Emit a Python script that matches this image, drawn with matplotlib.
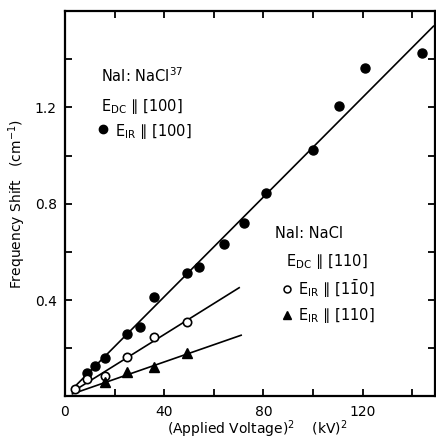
import matplotlib
matplotlib.use("Agg")
import matplotlib.pyplot as plt
import numpy as np

# NaI:NaCl, E_DC || [100], E_IR || [100]  (filled circles)
v2_100 = [9, 12.25, 16, 25, 30.25, 36, 49, 54, 64, 72.25, 81, 100, 110.25, 121, 144]
shift_100 = [0.097, 0.126, 0.161, 0.261, 0.289, 0.414, 0.514, 0.539, 0.633, 0.722,
             0.845, 1.022, 1.205, 1.365, 1.425]

# NaI:NaCl, E_DC || [110], E_IR || [1-10]  (open circles)
v2_1m10 = [4, 9, 16, 25, 36, 49]
shift_1m10 = [0.032, 0.071, 0.085, 0.162, 0.247, 0.310]

# NaI:NaCl, E_DC || [110], E_IR || [110]  (triangles)
v2_110 = [16, 25, 36, 49]
shift_110 = [0.060, 0.101, 0.122, 0.182]

# fitted straight lines: slope, x start, x end
fit_slopes = [0.01035, 0.00643, 0.00358]
fit_x0 = [3.5, 3.0, 3.0]
fit_x1 = [148.5, 70.2, 71.0]

xticks = [0, 20, 40, 60, 80, 100, 120, 140]
xtick_labels = ["0", "", "40", "", "80", "", "120", ""]
yticks = [0, 0.2, 0.4, 0.6, 0.8, 1.0, 1.2, 1.4, 1.6]
ytick_labels = ["", "", "0.4", "", "0.8", "", "1.2", "", ""]

plt.rcParams["mathtext.fontset"] = "dejavusans"

fig = plt.figure(figsize=(4.36, 4.41), dpi=100)
ax = fig.add_axes([0.149, 0.101, 0.848, 0.874])

for s, a, b in zip(fit_slopes, fit_x0, fit_x1):
    xs = np.array([a, b])
    ax.plot(xs, s * xs, color="black", lw=1.2, zorder=2)

ax.plot(v2_100, shift_100, "o", color="black", ms=6.5, zorder=3)
ax.plot(v2_1m10, shift_1m10, "o", mfc="white", mec="black", mew=1.2, ms=6, zorder=3)
ax.plot(v2_110, shift_110, "^", color="black", ms=6.5, zorder=3)

ax.set_xlim(0, 149)
ax.set_ylim(0, 1.6)
ax.set_xticks(xticks)
ax.set_xticklabels(xtick_labels)
ax.set_yticks(yticks)
ax.set_yticklabels(ytick_labels)
ax.tick_params(direction="in", length=5, width=1.3, top=True, right=True,
               labelsize=10, pad=6)
for sp in ax.spines.values():
    sp.set_linewidth(1.6)

ax.set_xlabel(r"(Applied Voltage)$^2$    (kV)$^2$", fontsize=10)
ax.xaxis.set_label_coords(0.52, -0.058)
ax.set_ylabel(r"Frequency Shift   (cm$^{-1}$)", fontsize=10, labelpad=5)

# annotations
tk = dict(fontsize=10.5, transform=ax.transData, va="center")
ax.text(14.5, 1.33, r"NaI: NaCl$^{37}$", **tk)
ax.text(14.5, 1.205, r"E$_{\rm DC}$ ∥ [100]", **tk)
ax.text(20, 1.10, r"E$_{\rm IR}$ ∥ [100]", **tk)
ax.plot([15.5], [1.11], "o", color="black", ms=6)

ax.text(84.5, 0.675, r"NaI: NaCl", **tk)
ax.text(89, 0.56, r"E$_{\rm DC}$ ∥ [110]", **tk)
ax.text(94, 0.445, r"E$_{\rm IR}$ ∥ [1$\bar{\rm 1}$0]", **tk)
ax.plot([89.5], [0.445], "o", mfc="white", mec="black", mew=1.1, ms=5)
ax.text(94, 0.335, r"E$_{\rm IR}$ ∥ [110]", **tk)
ax.plot([89.5], [0.34], "^", color="black", ms=6)

fig.savefig("out.png", dpi=100)
